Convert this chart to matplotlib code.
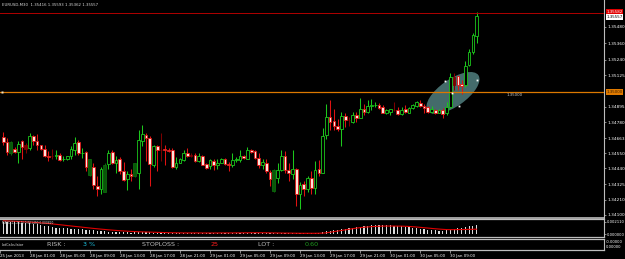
import matplotlib
matplotlib.use('Agg')
import matplotlib.pyplot as plt
from matplotlib.patches import Ellipse
from matplotlib.transforms import IdentityTransform, offset_copy
import numpy as np

# EURUSD M30 candles
opens = [1.34671, 1.34637, 1.34550, 1.34586, 1.34559, 1.34639, 1.34615, 1.34591, 1.34676, 1.34639,
         1.34610, 1.34586, 1.34535, 1.34535, 1.34530, 1.34542, 1.34506, 1.34506, 1.34530, 1.34579,
         1.34632, 1.34552, 1.34559, 1.34390, 1.34453, 1.34313, 1.34288, 1.34270, 1.34470, 1.34559,
         1.34482, 1.34506, 1.34421, 1.34361, 1.34402, 1.34385, 1.34409, 1.34644, 1.34688, 1.34663,
         1.34465, 1.34608, 1.34579, 1.34584, 1.34579, 1.34574, 1.34453, 1.34482, 1.34501, 1.34550,
         1.34542, 1.34542, 1.34494, 1.34535, 1.34470, 1.34458, 1.34494, 1.34463, 1.34482, 1.34511,
         1.34475, 1.34463, 1.34504, 1.34499, 1.34535, 1.34511, 1.34574, 1.34567, 1.34518, 1.34463,
         1.34477, 1.34414, 1.34276, 1.34371, 1.34426, 1.34535, 1.34429, 1.34402, 1.34434, 1.34252,
         1.34325, 1.34288, 1.34373, 1.34293, 1.34434, 1.34409, 1.34687, 1.34821, 1.34789, 1.34753,
         1.34731, 1.34828, 1.34796, 1.34784, 1.34833, 1.34813, 1.34874, 1.34857, 1.34898, 1.34903,
         1.34905, 1.34893, 1.34850, 1.34857, 1.34869, 1.34869, 1.34840, 1.34874, 1.34850, 1.34886,
         1.34900, 1.34922, 1.34900, 1.34893, 1.34857, 1.34869, 1.34850, 1.34869, 1.34845, 1.34893,
         1.35111, 1.35116, 1.35058, 1.35050, 1.35201, 1.35293, 1.35416]
highs = [1.34705, 1.34663, 1.34639, 1.34596, 1.34639, 1.34651, 1.34627, 1.34700, 1.34688, 1.34693,
         1.34615, 1.34615, 1.34567, 1.34584, 1.34579, 1.34550, 1.34535, 1.34535, 1.34608, 1.34671,
         1.34651, 1.34591, 1.34567, 1.34506, 1.34482, 1.34385, 1.34453, 1.34482, 1.34574, 1.34574,
         1.34530, 1.34526, 1.34487, 1.34421, 1.34434, 1.34482, 1.34724, 1.34760, 1.34700, 1.34676,
         1.34615, 1.34615, 1.34700, 1.34615, 1.34591, 1.34591, 1.34526, 1.34516, 1.34574, 1.34591,
         1.34550, 1.34550, 1.34555, 1.34542, 1.34477, 1.34506, 1.34506, 1.34511, 1.34516, 1.34518,
         1.34487, 1.34550, 1.34526, 1.34579, 1.34542, 1.34596, 1.34584, 1.34579, 1.34555, 1.34511,
         1.34506, 1.34429, 1.34434, 1.34482, 1.34579, 1.34567, 1.34482, 1.34579, 1.34446, 1.34337,
         1.34349, 1.34385, 1.34421, 1.34494, 1.34501, 1.34736, 1.34917, 1.34946, 1.34874, 1.34801,
         1.34857, 1.34845, 1.34821, 1.34857, 1.34857, 1.34961, 1.34917, 1.34946, 1.34954, 1.34925,
         1.34922, 1.34905, 1.34874, 1.34874, 1.34929, 1.34893, 1.34893, 1.34905, 1.34893, 1.34917,
         1.34934, 1.34942, 1.34917, 1.34898, 1.34898, 1.34874, 1.34874, 1.34881, 1.34929, 1.35142,
         1.35142, 1.35123, 1.35087, 1.35232, 1.35317, 1.35438, 1.35593]
lows = [1.34615, 1.34542, 1.34542, 1.34555, 1.34482, 1.34511, 1.34550, 1.34574, 1.34615, 1.34579,
        1.34579, 1.34526, 1.34494, 1.34506, 1.34506, 1.34497, 1.34497, 1.34501, 1.34506, 1.34542,
        1.34542, 1.34518, 1.34421, 1.34385, 1.34288, 1.34240, 1.34252, 1.34264, 1.34434, 1.34470,
        1.34409, 1.34397, 1.34349, 1.34281, 1.34349, 1.34380, 1.34288, 1.34603, 1.34494, 1.34313,
        1.34453, 1.34421, 1.34494, 1.34463, 1.34559, 1.34446, 1.34434, 1.34477, 1.34494, 1.34526,
        1.34526, 1.34487, 1.34487, 1.34463, 1.34438, 1.34438, 1.34429, 1.34438, 1.34477, 1.34463,
        1.34421, 1.34451, 1.34487, 1.34487, 1.34511, 1.34506, 1.34555, 1.34506, 1.34446, 1.34434,
        1.34409, 1.34308, 1.34269, 1.34332, 1.34419, 1.34409, 1.34349, 1.34361, 1.34167, 1.34143,
        1.34240, 1.34264, 1.34252, 1.34252, 1.34385, 1.34404, 1.34656, 1.34724, 1.34724, 1.34719,
        1.34608, 1.34748, 1.34753, 1.34772, 1.34784, 1.34808, 1.34833, 1.34850, 1.34869, 1.34893,
        1.34874, 1.34845, 1.34840, 1.34833, 1.34864, 1.34833, 1.34833, 1.34845, 1.34845, 1.34876,
        1.34893, 1.34893, 1.34845, 1.34850, 1.34850, 1.34840, 1.34845, 1.34808, 1.34833, 1.34886,
        1.35014, 1.35014, 1.34985, 1.35038, 1.35191, 1.35281, 1.35362]
closes = [1.34632, 1.34559, 1.34632, 1.34562, 1.34622, 1.34596, 1.34586, 1.34680, 1.34639, 1.34610,
          1.34584, 1.34535, 1.34526, 1.34533, 1.34542, 1.34501, 1.34513, 1.34530, 1.34584, 1.34627,
          1.34550, 1.34557, 1.34453, 1.34506, 1.34317, 1.34288, 1.34438, 1.34463, 1.34555, 1.34482,
          1.34499, 1.34421, 1.34354, 1.34397, 1.34385, 1.34477, 1.34651, 1.34693, 1.34663, 1.34470,
          1.34608, 1.34574, 1.34576, 1.34574, 1.34567, 1.34451, 1.34482, 1.34511, 1.34550, 1.34535,
          1.34530, 1.34494, 1.34530, 1.34467, 1.34446, 1.34499, 1.34463, 1.34482, 1.34511, 1.34470,
          1.34463, 1.34499, 1.34509, 1.34535, 1.34518, 1.34574, 1.34562, 1.34518, 1.34463, 1.34487,
          1.34421, 1.34361, 1.34429, 1.34426, 1.34535, 1.34429, 1.34405, 1.34434, 1.34252, 1.34317,
          1.34288, 1.34373, 1.34293, 1.34429, 1.34405, 1.34680, 1.34821, 1.34784, 1.34753, 1.34731,
          1.34825, 1.34796, 1.34794, 1.34833, 1.34813, 1.34874, 1.34852, 1.34898, 1.34903, 1.34905,
          1.34888, 1.34850, 1.34869, 1.34874, 1.34867, 1.34840, 1.34869, 1.34857, 1.34886, 1.34905,
          1.34925, 1.34900, 1.34881, 1.34857, 1.34874, 1.34850, 1.34869, 1.34840, 1.34893, 1.35111,
          1.35050, 1.35050, 1.35043, 1.35196, 1.35293, 1.35419, 1.35557]
dark_bars = [2, 6, 13, 23, 27, 35, 42, 50, 72, 92, 104, 120]

# MACD(12,26,9) sub window
macd_hist = [0.00205, 0.00206, 0.00204, 0.00200, 0.00196, 0.00192, 0.00186, 0.00182, 0.00175, 0.00166,
             0.00155, 0.00144, 0.00130, 0.00118, 0.00108, 0.00102, 0.00098, 0.00094, 0.00092, 0.00090,
             0.00086, 0.00080, 0.00072, 0.00066, 0.00060, 0.00052, 0.00048, 0.00045, 0.00042, 0.00040,
             0.00036, 0.00032, 0.00029, 0.00026, 0.00025, 0.00027, 0.00030, 0.00031, 0.00029, 0.00026,
             0.00024, 0.00022, 0.00021, 0.00020, 0.00019, 0.00018, 0.00018, 0.00019, 0.00020, 0.00020,
             0.00019, 0.00018, 0.00018, 0.00017, 0.00016, 0.00016, 0.00017, 0.00018, 0.00019, 0.00018,
             0.00017, 0.00018, 0.00019, 0.00021, 0.00022, 0.00024, 0.00025, 0.00024, 0.00022, 0.00020,
             0.00018, 0.00015, 0.00013, 0.00012, 0.00014, 0.00015, 0.00014, 0.00015, 0.00012, 0.00010,
             0.00010, 0.00011, 0.00012, 0.00015, 0.00016, 0.00030, 0.00045, 0.00058, 0.00066, 0.00072,
             0.00082, 0.00090, 0.00100, 0.00108, 0.00118, 0.00126, 0.00134, 0.00142, 0.00148, 0.00150,
             0.00150, 0.00148, 0.00146, 0.00145, 0.00142, 0.00138, 0.00132, 0.00124, 0.00116, 0.00108,
             0.00100, 0.00092, 0.00084, 0.00076, 0.00068, 0.00062, 0.00058, 0.00056, 0.00060, 0.00076,
             0.00090, 0.00098, 0.00104, 0.00118, 0.00128, 0.00139, 0.00149]
macd_signal = [0.00225, 0.00222, 0.00219, 0.00216, 0.00213, 0.00210, 0.00206, 0.00202, 0.00198, 0.00194,
               0.00189, 0.00184, 0.00178, 0.00172, 0.00165, 0.00158, 0.00151, 0.00144, 0.00137, 0.00130,
               0.00123, 0.00116, 0.00109, 0.00102, 0.00095, 0.00089, 0.00083, 0.00077, 0.00071, 0.00066,
               0.00061, 0.00056, 0.00052, 0.00048, 0.00044, 0.00041, 0.00038, 0.00036, 0.00034, 0.00032,
               0.00030, 0.00028, 0.00026, 0.00024, 0.00022, 0.00021, 0.00020, 0.00019, 0.00018, 0.00018,
               0.00018, 0.00018, 0.00018, 0.00017, 0.00017, 0.00017, 0.00017, 0.00017, 0.00018, 0.00018,
               0.00018, 0.00018, 0.00019, 0.00019, 0.00020, 0.00020, 0.00021, 0.00021, 0.00021, 0.00021,
               0.00020, 0.00019, 0.00018, 0.00017, 0.00016, 0.00015, 0.00015, 0.00014, 0.00013, 0.00012,
               0.00012, 0.00012, 0.00012, 0.00012, 0.00013, 0.00015, 0.00020, 0.00030, 0.00040, 0.00050,
               0.00060, 0.00070, 0.00080, 0.00090, 0.00100, 0.00108, 0.00115, 0.00120, 0.00125, 0.00129,
               0.00132, 0.00134, 0.00135, 0.00135, 0.00135, 0.00134, 0.00133, 0.00131, 0.00128, 0.00124,
               0.00119, 0.00113, 0.00107, 0.00101, 0.00095, 0.00089, 0.00084, 0.00079, 0.00075, 0.00074,
               0.00074, 0.00075, 0.00076, 0.00077, 0.00079, 0.00080, 0.00082]

price_ticks = [1.35480, 1.35360, 1.35240, 1.35125, 1.34895, 1.34780, 1.34663,
               1.34550, 1.34440, 1.34325, 1.34210, 1.34100]
time_labels = ['25 Jan 2013', '28 Jan 01:00', '28 Jan 05:00', '28 Jan 09:00', '28 Jan 13:00',
               '28 Jan 17:00', '28 Jan 21:00', '29 Jan 01:00', '29 Jan 05:00', '29 Jan 09:00',
               '29 Jan 13:00', '29 Jan 17:00', '29 Jan 21:00', '30 Jan 01:00', '30 Jan 05:00',
               '30 Jan 09:00']
header = 'EURUSD,M30  1.35416 1.35593 1.35362 1.35557'
bid_price = 1.35557
ask_price = 1.35582
level_price = 1.35000

W, H = 625, 259
BG = 'black'
FRAME = '#bdbdbd'
XLIM = (-0.88, 159.9)


def px_box(x0, y0, x1, y1):
    return [x0 / W, 1 - y1 / H, (x1 - x0) / W, (y1 - y0) / H]


def pane(rect):
    a = fig.add_axes(rect)
    a.set_facecolor(BG)
    for s in a.spines.values():
        s.set_visible(False)
    a.spines['right'].set_visible(True)
    a.spines['right'].set_color(FRAME)
    a.spines['right'].set_linewidth(0.8)
    a.set_xlim(*XLIM)
    a.set_xticks([])
    a.yaxis.tick_right()
    a.tick_params(axis='y', colors=FRAME, labelcolor='white', labelsize=3.05,
                  length=1.4, width=0.5, pad=0.8)
    return a


fig = plt.figure(figsize=(W / 100, H / 100), dpi=100, facecolor=BG)

# ---- price pane ----
ax = pane(px_box(0, 0, 604, 218))
ax.spines['bottom'].set_visible(True)
ax.spines['bottom'].set_color(FRAME)
ax.spines['bottom'].set_linewidth(1.2)
ax.set_ylim(1.34076, 1.35678)
ax.set_yticks(price_ticks)
ax.set_yticklabels([f'{p:.5f}' for p in price_ticks])

o = np.array(opens)
h = np.array(highs)
l = np.array(lows)
c = np.array(closes)
idx = np.arange(len(o))
up = c >= o
dark = np.isin(idx, dark_bars)

wick_col, edge_col, fill_col = [], [], []
for u, d in zip(up, dark):
    if u and not d:
        wick_col.append('#1cc81c'); edge_col.append('#1cc81c'); fill_col.append('black')
    elif u and d:
        wick_col.append('#0b6a0b'); edge_col.append('#0b6a0b'); fill_col.append('#0a560a')
    elif not d:
        wick_col.append('#e01212'); edge_col.append('#e01212'); fill_col.append('#ffe2da')
    else:
        wick_col.append('#7c0000'); edge_col.append('#7c0000'); fill_col.append('#7c0000')

# ellipse drawn on the chart around the breakout
ell_center = (119.7, 1.34995)
cx, cy = ax.transData.transform(ell_center)
ell = Ellipse((cx, cy), width=62, height=27, angle=35, transform=IdentityTransform(),
              facecolor='#517f7f', edgecolor='none', alpha=0.85, zorder=1)
ax.add_patch(ell)
for dx, dy in [(-8, 12), (24, 13), (-1, 0), (6, -13)]:
    tr = offset_copy(ax.transData, fig=fig, x=dx, y=dy, units='dots')
    ax.plot(*ell_center, marker='s', ms=1.3, color='white', mec='none', transform=tr, zorder=5)

ax.vlines(idx, l, h, colors=wick_col, linewidth=0.75, zorder=2)
ax.bar(idx, np.maximum(np.abs(c - o), 0.00001), bottom=np.minimum(o, c), width=0.72,
       color=fill_col, edgecolor=edge_col, linewidth=0.6, zorder=3)

# horizontal level and price lines
ax.axhline(level_price, color='#dc7800', linewidth=0.9, zorder=4)
ax.plot(XLIM[0] + 0.55, level_price, marker='s', ms=1.6, color='#f0e0c0', mec='none', zorder=5)
ax.text(134, level_price - 0.00004, f'{level_price:.5f}', color='#cfcfcf', fontsize=2.8,
        va='top', ha='left', zorder=5)
ax.axhline(ask_price, color='#b00000', linewidth=0.7, zorder=4)

yt = ax.get_yaxis_transform()
ax.text(1.004, ask_price + 0.00006, f'{ask_price:.5f}', transform=yt, fontsize=2.9, color='white',
        va='center', ha='left', clip_on=False,
        bbox=dict(boxstyle='square,pad=0.2', fc='#e00000', ec='none'))
ax.text(1.004, bid_price - 0.00003, f'{bid_price:.5f}', transform=yt, fontsize=2.9, color='black',
        va='center', ha='left', clip_on=False,
        bbox=dict(boxstyle='square,pad=0.2', fc='white', ec='none'))
ax.text(1.004, level_price, f'{level_price:.5f}', transform=yt, fontsize=2.9, color='#3a2000',
        va='center', ha='left', clip_on=False,
        bbox=dict(boxstyle='square,pad=0.2', fc='#e07a00', ec='none'))

fig.text(2 / W, 1 - 4.5 / H, header, fontsize=2.8, color='#d8d8d8', va='center', ha='left')

# ---- MACD pane ----
am = pane(px_box(0, 219, 604, 237))
for s in ('top', 'bottom'):
    am.spines[s].set_visible(True)
    am.spines[s].set_color(FRAME)
    am.spines[s].set_linewidth(0.9)
am.set_ylim(-0.00051, 0.00255)
am.bar(idx, macd_hist, width=0.32, color='#dadada', linewidth=0)
am.plot(idx, macd_signal, color='#e00000', linewidth=0.8)
am.set_yticks([0.00211, 0.0])
am.set_yticklabels(['0.002110', '0.000000'])
am.tick_params(axis='y', labelsize=2.7, pad=0.6)
am.text(2 / 604, 0.9, f'MACD(12,26,9) {macd_hist[-1]:.6f} {macd_signal[-1]:.6f}',
        transform=am.transAxes, fontsize=2.1, color='#d8d8d8', va='top', ha='left')

# ---- LotCalculator pane ----
al = pane(px_box(0, 239, 604, 250))
for s in ('top', 'bottom'):
    al.spines[s].set_visible(True)
    al.spines[s].set_color(FRAME)
    al.spines[s].set_linewidth(0.9)
al.set_ylim(0, 1)
al.set_yticks([])
al.text(1.003, 0.72, '-0.00000', transform=al.transAxes, fontsize=2.7, color='white',
        va='center', ha='left', clip_on=False)
al.text(1.003, 0.25, '0.00000', transform=al.transAxes, fontsize=2.7, color='white',
        va='center', ha='left', clip_on=False)

lot_items = [('LotCalculator', 2, 2.4, '#e0e0e0'),
             ('RISK :', 47, 4.6, '#bdbdbd'),
             ('3 %', 83, 4.6, '#1ec8e8'),
             ('STOPLOSS :', 142, 4.6, '#bdbdbd'),
             ('25', 211, 4.6, '#ff1e1e'),
             ('LOT :', 258, 4.6, '#bdbdbd'),
             ('0.60', 305, 4.6, '#1f9a1f')]
for txt, xp, fs, col in lot_items:
    fig.text(xp / W, 1 - 244.5 / H, txt, fontsize=fs, color=col, va='center', ha='left')

tick_pos = [XLIM[0]] + [7 + 8 * k for k in range(len(time_labels) - 1)]
al.set_xticks(tick_pos)
al.set_xticklabels(time_labels)
al.tick_params(axis='x', colors=FRAME, labelcolor='white', labelsize=2.9,
               length=2.2, width=0.5, pad=0.6, direction='out')
for lab in al.get_xticklabels():
    lab.set_horizontalalignment('left')

fig.savefig('out.png', dpi=100, facecolor=BG)
